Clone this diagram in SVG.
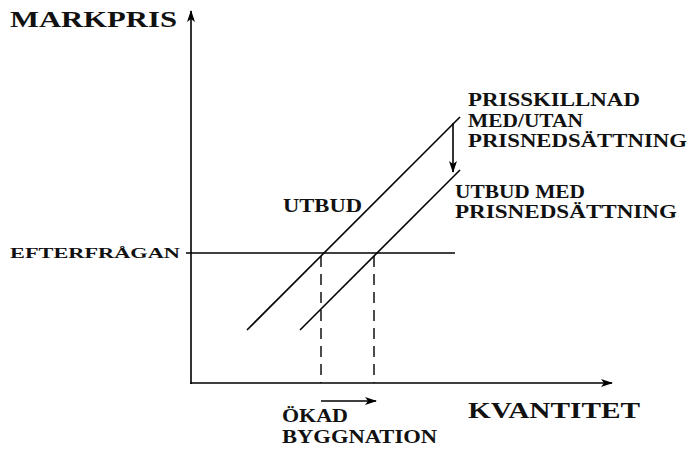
<svg xmlns="http://www.w3.org/2000/svg" width="691" height="451" viewBox="0 0 691 451">
<defs>
<marker id="ah" markerWidth="12" markerHeight="8" refX="11" refY="4" orient="auto" markerUnits="userSpaceOnUse">
<path d="M0,0 L12,4 L0,8 L3,4 Z" fill="#000"/>
</marker>
</defs>
<style>
.l{stroke:#000;stroke-width:1.6;fill:none}
.d{stroke:#000;stroke-width:1.4;fill:none;stroke-dasharray:11,7}
text{font-family:"Liberation Serif","DejaVu Serif",serif;font-weight:bold;fill:#111}
.big{font-size:23px}
.sm{font-size:18.5px}
.xs{font-size:15px}
</style>
<rect width="691" height="451" fill="#fff"/>
<g id="connectors">
<line class="l" x1="191" y1="384" x2="191" y2="11" marker-end="url(#ah)"/>
<line class="l" x1="190" y1="383" x2="612" y2="383" marker-end="url(#ah)"/>
<line class="l" x1="186" y1="253" x2="455" y2="253"/>
<line class="l" x1="247" y1="330" x2="460" y2="117"/>
<line class="l" x1="300" y1="330" x2="460" y2="170"/>
<line class="d" x1="321" y1="256" x2="321" y2="383"/>
<line class="d" x1="374" y1="256" x2="374" y2="383"/>
<line class="l" x1="453" y1="123" x2="453" y2="172" marker-end="url(#ah)"/>
<line class="l" x1="321" y1="401" x2="376" y2="401" marker-end="url(#ah)"/>
</g>
<g id="markpris"><text class="big" x="10" y="27" textLength="167" lengthAdjust="spacingAndGlyphs">MARKPRIS</text></g>
<g id="kvantitet"><text class="big" x="468" y="418" textLength="172" lengthAdjust="spacingAndGlyphs">KVANTITET</text></g>
<g id="efterfragan"><text class="xs" x="10" y="258" textLength="170" lengthAdjust="spacingAndGlyphs">EFTERFRÅGAN</text></g>
<g id="utbud"><text class="sm" x="283" y="212" textLength="79" lengthAdjust="spacingAndGlyphs">UTBUD</text></g>
<g id="prisskillnad">
<text class="sm" x="468" y="106" textLength="172" lengthAdjust="spacingAndGlyphs">PRISSKILLNAD</text>
<text class="sm" x="468" y="127" textLength="115" lengthAdjust="spacingAndGlyphs">MED/UTAN</text>
<text class="sm" x="468" y="147" textLength="219" lengthAdjust="spacingAndGlyphs">PRISNEDSÄTTNING</text>
</g>
<g id="utbudmed">
<text class="sm" x="455" y="198" textLength="130" lengthAdjust="spacingAndGlyphs">UTBUD MED</text>
<text class="sm" x="455" y="218" textLength="222" lengthAdjust="spacingAndGlyphs">PRISNEDSÄTTNING</text>
</g>
<g id="okad">
<text class="sm" x="282" y="422" textLength="66" lengthAdjust="spacingAndGlyphs">ÖKAD</text>
<text class="sm" x="282" y="443" textLength="155" lengthAdjust="spacingAndGlyphs">BYGGNATION</text>
</g>
</svg>
